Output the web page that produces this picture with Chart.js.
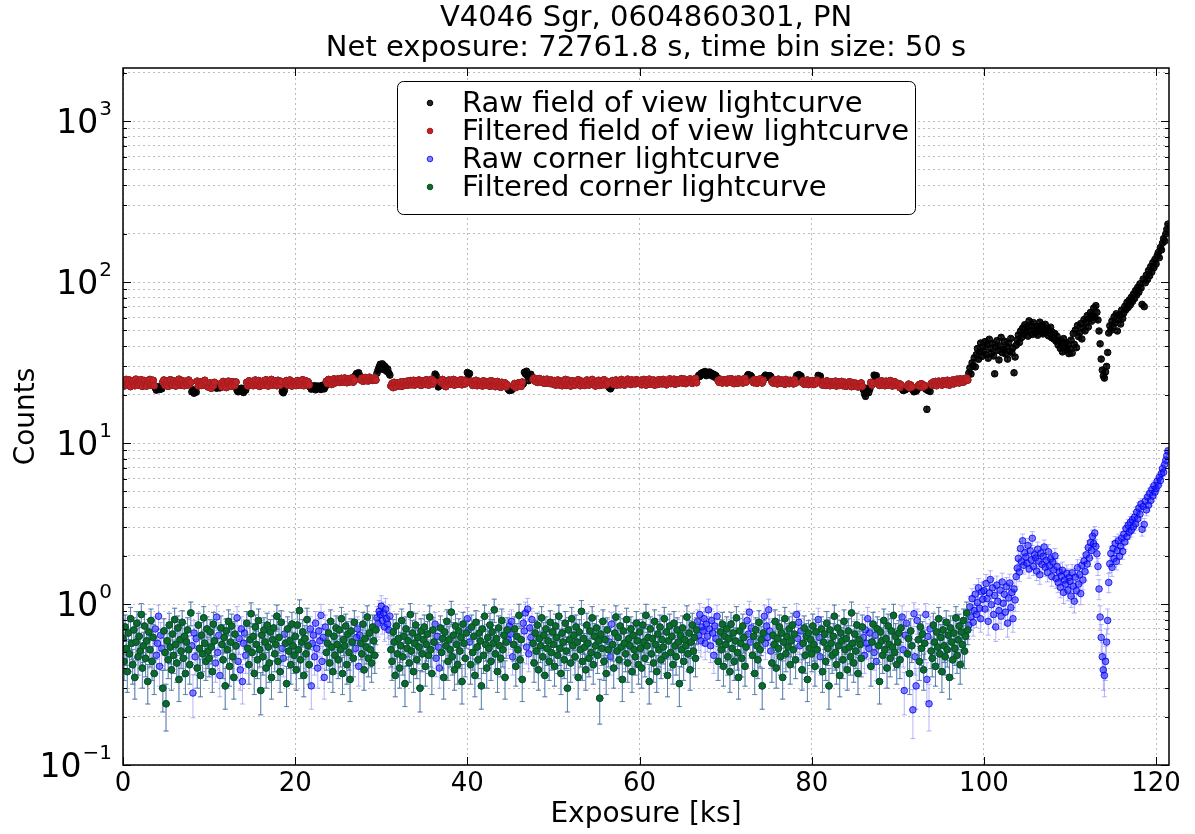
<!DOCTYPE html>
<html>
<head>
<meta charset="utf-8">
<title>V4046 Sgr, 0604860301, PN</title>
<script src="https://cdn.jsdelivr.net/npm/chart.js@4.4.1/dist/chart.umd.min.js"></script>
<style>
  html, body { margin: 0; padding: 0; background: #fff; }
  #lcChart { display: block; }
</style>
</head>
<body>
<canvas id="lcChart" width="1195" height="834"></canvas>
<script>
const titleLines = ['V4046 Sgr, 0604860301, PN', 'Net exposure: 72761.8 s, time bin size: 50 s'];
const seriesNames = ['Raw field of view lightcurve', 'Filtered field of view lightcurve',
                     'Raw corner lightcurve', 'Filtered corner lightcurve'];

// lightcurve bins (ks), one value per bin
const binSize = 0.125;
const filterEnd = 98.25;          // everything after this is dropped by the filter
const badIntervals = [
  [3.75, 4.5], [8.0, 8.5], [10.75, 11.25], [13.25, 14.25], [18.5, 18.75], [21.75, 23.5],
  [27.0, 27.5], [29.5, 31.0], [36.25, 36.75], [40.0, 40.25], [44.75, 45.25], [46.5, 47.5],
  [56.5, 56.75], [66.75, 69.0], [72.5, 73.0], [74.5, 75.25], [78.25, 78.75], [80.75, 81.0],
  [86.0, 86.75], [87.25, 87.5], [90.5, 91.0], [91.75, 92.25], [93.25, 93.75]
];

// field of view counts per bin, 10 ks per block
const rawFov = [
  // 0-10
  24.2, 22.6, 23.9, 24.8, 22.9, 23.5, 24.6, 22.4, 23.8, 24.3, 23.1, 22.7, 24.9, 23.6, 22.8, 24.1, 23.3, 24.7, 22.5, 23.7,
  24.4, 23.0, 22.6, 24.0, 23.5, 24.8, 22.9, 23.4, 24.5, 22.7, 22.0, 21.3, 21.8, 22.4, 21.5, 22.1, 21.7, 23.9, 24.6, 22.8,
  23.6, 24.2, 22.5, 23.8, 24.7, 23.1, 22.9, 24.3, 23.4, 22.6, 24.0, 23.7, 24.9, 22.8, 23.3, 24.4, 23.0, 22.7, 24.1, 23.5,
  22.9, 24.6, 23.2, 23.8, 20.8, 21.4, 20.4, 21.1, 20.7, 24.2, 22.6, 23.5, 24.0, 22.8, 23.9, 23.1, 24.5, 22.7, 23.4, 22.3,
  // 10-20
  22.4, 23.6, 21.9, 23.1, 22.7, 23.8, 22.5, 21.9, 22.2, 22.8, 22.0, 23.4, 22.3, 24.1, 22.9, 23.5, 22.1, 23.7, 24.2, 22.6,
  23.3, 22.5, 24.0, 23.6, 22.8, 23.9, 21.2, 20.8, 21.6, 21.0, 21.9, 21.4, 20.6, 21.7, 21.3, 23.8, 22.6, 24.3, 23.1, 22.9,
  24.1, 22.7, 23.5, 24.6, 22.9, 23.2, 24.4, 22.5, 23.7, 23.0, 24.2, 22.8, 23.9, 24.7, 23.3, 22.6, 24.0, 23.4, 24.8, 22.9,
  23.6, 24.3, 23.0, 22.7, 24.5, 23.8, 22.8, 24.1, 20.9, 20.5, 21.2, 23.5, 24.4, 22.9, 23.7, 24.6, 23.2, 22.6, 24.0, 23.4,
  // 20-30
  23.9, 22.8, 24.4, 23.5, 22.9, 24.1, 23.3, 24.7, 22.7, 23.8, 24.3, 23.0, 24.0, 22.9, 22.2, 21.6, 22.5, 21.9, 22.7, 21.4,
  22.0, 22.6, 21.8, 22.3, 21.5, 22.8, 22.1, 21.7, 22.4, 24.2, 23.4, 24.8, 23.7, 24.5, 23.1, 24.0, 25.0, 23.6, 24.3, 24.9,
  24.9, 23.8, 24.6, 25.2, 23.9, 24.4, 25.3, 24.1, 23.7, 24.8, 25.1, 24.0, 24.7, 25.4, 23.9, 24.5, 26.3, 27.0, 26.5, 27.3,
  26.1, 24.6, 25.3, 24.2, 24.9, 25.5, 24.4, 25.0, 24.3, 25.6, 24.7, 25.2, 24.5, 24.8, 25.4, 24.6, 27.1, 28.4, 29.6, 30.8,
  // 30-40
  29.2, 31.0, 28.6, 30.1, 29.5, 27.9, 28.8, 27.2, 26.4, 22.6, 23.4, 22.1, 23.8, 22.9, 22.4, 23.6, 23.1, 22.7, 23.9, 22.5,
  23.3, 24.0, 22.8, 23.5, 24.2, 22.9, 23.7, 24.4, 23.0, 23.6, 24.5, 22.9, 23.8, 24.1, 23.2, 24.6, 23.4, 22.8, 24.3, 23.7,
  24.0, 23.1, 24.7, 23.5, 22.9, 24.4, 23.8, 24.9, 23.3, 24.2, 26.8, 26.2, 24.5, 22.3, 22.6, 24.1, 23.6, 24.8, 23.2, 22.6,
  22.4, 24.3, 23.7, 24.6, 23.1, 24.0, 23.5, 24.8, 22.9, 23.8, 24.4, 23.2, 24.1, 23.6, 24.7, 23.0, 23.9, 24.5, 23.3, 24.2,
  // 40-50
  27.4, 26.6, 27.0, 23.6, 24.2, 22.8, 23.9, 23.3, 24.5, 22.7, 23.5, 24.1, 23.0, 23.8, 22.6, 24.3, 23.4, 22.9, 24.0, 23.2,
  23.7, 22.5, 24.4, 23.1, 22.8, 23.9, 22.4, 23.5, 24.1, 22.7, 23.3, 22.2, 23.8, 22.9, 22.5, 23.6, 22.3, 23.0, 21.6, 21.2,
  21.8, 21.3, 21.9, 22.6, 23.4, 22.1, 23.0, 22.8, 23.7, 23.2, 22.5, 23.9, 23.3, 27.5, 26.8, 27.9, 26.0, 24.4, 25.9, 26.7,
  25.2, 24.8, 25.3, 24.2, 24.9, 23.8, 24.6, 25.1, 24.0, 24.4, 23.7, 24.8, 23.5, 24.3, 24.9, 23.6, 24.1, 23.4, 24.6, 23.9,
  // 50-60
  23.2, 24.4, 22.9, 23.8, 24.6, 23.0, 23.5, 24.2, 22.7, 24.0, 23.6, 24.8, 22.8, 23.3, 24.5, 23.1, 22.6, 23.9, 24.3, 23.4,
  22.9, 24.1, 23.7, 24.7, 23.0, 22.7, 24.2, 23.5, 24.0, 22.8, 23.9, 24.6, 23.2, 22.9, 24.3, 23.6, 24.8, 23.1, 23.7, 22.6,
  24.0, 23.4, 24.5, 22.8, 23.6, 24.2, 23.0, 24.7, 23.3, 22.9, 24.1, 23.5, 22.0, 21.7, 22.3, 24.4, 23.1, 23.8, 24.6, 22.9,
  23.5, 24.3, 23.0, 24.8, 23.7, 24.1, 22.9, 24.5, 23.4, 24.9, 23.8, 24.2, 23.1, 24.6, 23.6, 24.0, 23.3, 24.7, 23.9, 24.4,
  // 60-70
  23.4, 24.5, 23.0, 24.1, 24.8, 23.6, 22.9, 24.3, 23.7, 24.9, 23.2, 24.0, 23.5, 24.6, 22.9, 23.8, 24.4, 23.1, 24.7, 23.9,
  24.2, 23.3, 24.8, 23.6, 24.1, 23.0, 24.5, 23.7, 25.0, 23.4, 24.3, 23.8, 24.9, 23.2, 24.0, 24.6, 23.5, 24.4, 23.9, 25.1,
  23.6, 24.3, 24.9, 23.4, 24.1, 24.7, 23.8, 25.0, 24.2, 23.5, 24.6, 24.0, 25.2, 23.7, 25.5, 26.3, 25.9, 27.0, 26.6, 27.5,
  26.8, 27.8, 26.2, 27.3, 26.9, 27.6, 26.4, 27.1, 26.0, 26.7, 25.6, 26.2, 25.3, 24.4, 23.8, 24.9, 24.1, 23.6, 24.7, 24.2,
  // 70-80
  24.5, 23.6, 24.9, 23.9, 24.3, 25.1, 23.7, 24.6, 23.4, 24.8, 24.1, 23.5, 25.0, 24.2, 23.8, 24.7, 23.6, 24.4, 25.2, 23.9,
  26.0, 26.6, 25.7, 26.3, 25.9, 24.3, 23.7, 24.8, 24.0, 23.5, 24.6, 23.9, 25.0, 24.2, 23.6, 24.5, 25.8, 26.4, 25.6, 26.1,
  25.5, 26.2, 25.9, 24.1, 23.6, 24.7, 23.9, 24.4, 23.3, 24.9, 24.0, 23.5, 24.6, 23.8, 24.3, 23.2, 24.8, 23.7, 24.2, 23.4,
  24.5, 23.9, 24.1, 23.3, 24.7, 23.6, 26.2, 25.7, 26.6, 25.9, 26.1, 23.8, 24.4, 23.2, 24.0, 23.5, 24.6, 23.1, 23.9, 24.3,
  // 80-90
  23.8, 24.4, 23.1, 24.0, 23.5, 24.6, 26.3, 25.8, 26.0, 23.4, 22.9, 24.1, 23.6, 22.8, 24.3, 23.2, 23.9, 22.7, 24.0, 23.3,
  22.9, 23.7, 24.2, 22.6, 23.4, 23.9, 22.8, 23.5, 24.1, 22.7, 23.0, 23.8, 22.5, 23.6, 22.9, 24.0, 23.2, 22.4, 23.7, 23.1,
  22.6, 23.5, 22.9, 22.3, 23.3, 22.7, 23.6, 22.5, 21.4, 20.2, 19.5, 20.8, 21.9, 20.6, 21.6, 23.8, 22.9, 23.6, 26.4, 25.9,
  26.2, 23.5, 24.1, 22.8, 23.7, 24.3, 23.0, 23.9, 22.7, 24.2, 23.4, 22.9, 23.8, 24.4, 23.1, 22.6, 23.6, 24.0, 22.8, 23.5,
  // 90-100
  22.8, 23.4, 22.1, 23.0, 21.7, 21.2, 21.9, 21.4, 21.8, 22.5, 23.2, 22.0, 22.9, 22.3, 21.3, 20.8, 21.6, 21.0, 21.5, 22.7,
  23.1, 22.4, 23.3, 22.2, 22.9, 22.6, 21.6, 16.2, 21.2, 21.8, 20.9, 23.4, 22.8, 23.9, 23.0, 24.1, 22.7, 23.6, 24.2, 23.2,
  23.8, 22.9, 24.3, 23.4, 24.0, 23.1, 24.5, 23.7, 22.9, 24.2, 23.5, 24.6, 23.3, 24.4, 23.8, 24.9, 24.1, 23.6, 25.0, 24.3,
  24.7, 23.9, 25.1, 24.4, 25.3, 24.6, 27.2, 29.3, 26.8, 31.5, 30.2, 33.8, 29.7, 35.4, 38.6, 33.1, 36.9, 41.8, 34.5, 39.7,
  // 100-110
  37.2, 42.6, 35.4, 40.8, 33.6, 44.1, 38.9, 36.1, 41.5, 34.7, 26.9, 39.4, 43.2, 37.6, 32.8, 40.1, 45.3, 36.4, 38.2, 42.9,
  35.8, 39.6, 33.2, 41.7, 37.1, 44.6, 36.3, 39.0, 27.3, 34.2, 40.5, 43.8, 46.9, 42.1, 49.6, 45.2, 51.8, 47.4, 54.3, 48.9,
  52.6, 46.1, 57.4, 49.8, 53.1, 47.2, 55.9, 50.4, 48.1, 52.9, 46.7, 51.2, 56.3, 49.0, 53.8, 47.6, 50.7, 54.6, 48.4, 51.5,
  46.3, 49.9, 52.4, 45.1, 48.6, 44.2, 47.8, 42.9, 46.0, 40.6, 43.4, 38.7, 41.9, 36.8, 44.5, 39.3, 42.2, 37.5, 40.9, 35.9,
  // 110-120
  38.4, 43.6, 36.2, 47.9, 41.0, 50.3, 39.1, 53.7, 45.8, 48.6, 55.2, 44.3, 51.9, 58.4, 49.7, 56.1, 61.8, 52.5, 59.3, 64.7,
  57.0, 62.4, 68.9, 60.2, 71.3, 64.8, 58.1, 49.6, 41.3, 33.2, 28.4, 26.1, 25.3, 27.6, 29.9, 36.5, 48.2, 53.5, 50.1, 57.3,
  52.4, 60.8, 55.7, 63.5, 49.6, 58.2, 62.1, 54.8, 66.9, 59.4, 64.2, 70.6, 67.3, 74.8, 69.5, 77.2, 72.1, 80.4, 75.6, 84.3,
  79.1, 88.6, 83.2, 92.7, 86.5, 97.4, 91.8, 72.6, 104.2, 70.3, 98.9, 110.5, 103.6, 117.8, 109.2, 124.6, 115.3, 131.9, 122.7, 138.4,
  // 120-
  129.5, 145.8, 152.3, 141.6, 163.9, 158.2, 174.5, 186.1, 179.3, 198.6, 212.4, 228.7
];

// corner counts per bin, 10 ks per block
const rawCorner = [
  // 0-10
  0.61, 0.44, 0.72, 0.53, 0.38, 0.66, 0.49, 0.81, 0.57, 0.42, 0.69, 0.35, 0.58, 0.76, 0.47, 0.63, 0.51, 0.86, 0.40, 0.55,
  0.73, 0.46, 0.59, 0.33, 0.67, 0.52, 0.79, 0.44, 0.62, 0.37, 0.70, 0.48, 0.57, 0.84, 0.41, 0.64, 0.53, 0.30, 0.68, 0.50,
  0.24, 0.59, 0.45, 0.74, 0.54, 0.39, 0.65, 0.48, 0.80, 0.56, 0.43, 0.71, 0.34, 0.60, 0.51, 0.77, 0.46, 0.63, 0.37, 0.58,
  0.69, 0.52, 0.42, 0.88, 0.55, 0.28, 0.66, 0.47, 0.61, 0.40, 0.74, 0.53, 0.36, 0.64, 0.49, 0.82, 0.57, 0.44, 0.70, 0.51,
  // 10-20
  0.46, 0.67, 0.54, 0.38, 0.75, 0.59, 0.43, 0.83, 0.50, 0.64, 0.36, 0.71, 0.56, 0.45, 0.62, 0.31, 0.68, 0.52, 0.78, 0.41,
  0.58, 0.73, 0.47, 0.35, 0.65, 0.55, 0.82, 0.44, 0.61, 0.39, 0.70, 0.33, 0.57, 0.66, 0.48, 0.76, 0.53, 0.42, 0.60, 0.87,
  0.50, 0.63, 0.37, 0.72, 0.56, 0.45, 0.79, 0.52, 0.29, 0.64, 0.47, 0.69, 0.58, 0.40, 0.74, 0.54, 0.43, 0.67, 0.35, 0.60,
  0.71, 0.49, 0.56, 0.84, 0.44, 0.62, 0.38, 0.77, 0.53, 0.46, 0.65, 0.57, 0.32, 0.70, 0.51, 0.59, 0.42, 0.75, 0.55, 0.48,
  // 20-30
  0.63, 0.39, 0.74, 0.52, 0.91, 0.45, 0.58, 0.67, 0.36, 0.61, 0.49, 0.80, 0.55, 0.42, 0.70, 0.31, 0.57, 0.64, 0.47, 0.76,
  0.53, 0.40, 0.68, 0.59, 0.85, 0.44, 0.62, 0.35, 0.72, 0.50, 0.57, 0.66, 0.43, 0.78, 0.54, 0.38, 0.63, 0.48, 0.71, 0.56,
  0.45, 0.69, 0.52, 0.81, 0.37, 0.60, 0.55, 0.73, 0.42, 0.65, 0.50, 0.34, 0.68, 0.58, 0.46, 0.77, 0.53, 0.62, 0.70, 0.41,
  0.64, 0.57, 0.49, 0.75, 0.39, 0.61, 0.54, 0.83, 0.46, 0.66, 0.52, 0.43, 0.72, 0.59, 0.48, 0.69, 0.82, 0.76, 0.90, 0.86,
  // 30-40
  0.97, 0.79, 0.88, 0.72, 0.93, 0.81, 0.75, 0.69, 0.84, 0.52, 0.44, 0.67, 0.58, 0.36, 0.73, 0.49, 0.61, 0.40, 0.55, 0.79,
  0.47, 0.63, 0.32, 0.70, 0.53, 0.59, 0.43, 0.86, 0.51, 0.66, 0.38, 0.57, 0.74, 0.45, 0.62, 0.54, 0.30, 0.68, 0.49, 0.60,
  0.72, 0.41, 0.56, 0.65, 0.48, 0.83, 0.52, 0.37, 0.69, 0.58, 0.75, 0.46, 0.63, 0.54, 0.40, 0.71, 0.50, 0.61, 0.35, 0.67,
  0.55, 0.78, 0.44, 0.60, 0.52, 0.89, 0.47, 0.64, 0.39, 0.73, 0.56, 0.42, 0.68, 0.51, 0.62, 0.33, 0.75, 0.57, 0.46, 0.66,
  // 40-50
  0.81, 0.69, 0.58, 0.42, 0.72, 0.50, 0.63, 0.36, 0.77, 0.54, 0.45, 0.66, 0.59, 0.31, 0.70, 0.48, 0.84, 0.56, 0.40, 0.62,
  0.53, 0.74, 0.44, 0.67, 0.57, 0.92, 0.49, 0.61, 0.38, 0.71, 0.55, 0.46, 0.79, 0.52, 0.64, 0.35, 0.58, 0.69, 0.60, 0.73,
  0.65, 0.78, 0.47, 0.56, 0.70, 0.41, 0.63, 0.52, 0.85, 0.45, 0.60, 0.34, 0.76, 0.68, 0.88, 0.54, 0.93, 0.49, 0.71, 0.62,
  0.80, 0.57, 0.43, 0.66, 0.51, 0.74, 0.39, 0.61, 0.55, 0.82, 0.47, 0.64, 0.36, 0.70, 0.53, 0.59, 0.44, 0.77, 0.50, 0.67,
  // 50-60
  0.56, 0.41, 0.73, 0.62, 0.48, 0.84, 0.53, 0.37, 0.66, 0.58, 0.45, 0.76, 0.51, 0.30, 0.69, 0.60, 0.43, 0.81, 0.55, 0.64,
  0.47, 0.72, 0.58, 0.35, 0.67, 0.52, 0.90, 0.44, 0.61, 0.54, 0.39, 0.74, 0.57, 0.46, 0.68, 0.50, 0.82, 0.42, 0.63, 0.55,
  0.71, 0.48, 0.59, 0.26, 0.65, 0.53, 0.78, 0.44, 0.60, 0.37, 0.69, 0.52, 0.58, 0.47, 0.75, 0.56, 0.40, 0.66, 0.83, 0.51,
  0.62, 0.45, 0.73, 0.54, 0.34, 0.68, 0.57, 0.49, 0.80, 0.43, 0.61, 0.55, 0.70, 0.38, 0.64, 0.52, 0.47, 0.76, 0.59, 0.42,
  // 60-70
  0.67, 0.53, 0.40, 0.74, 0.58, 0.46, 0.85, 0.55, 0.62, 0.33, 0.70, 0.49, 0.61, 0.43, 0.78, 0.56, 0.38, 0.65, 0.52, 0.72,
  0.45, 0.60, 0.54, 0.81, 0.48, 0.67, 0.36, 0.59, 0.73, 0.50, 0.63, 0.42, 0.76, 0.55, 0.47, 0.69, 0.58, 0.32, 0.64, 0.52,
  0.71, 0.44, 0.60, 0.55, 0.83, 0.49, 0.66, 0.39, 0.58, 0.74, 0.51, 0.62, 0.46, 0.69, 0.78, 0.64, 0.86, 0.59, 0.72, 0.68,
  0.81, 0.57, 0.75, 0.63, 0.92, 0.70, 0.55, 0.79, 0.66, 0.48, 0.73, 0.61, 0.84, 0.44, 0.58, 0.67, 0.52, 0.75, 0.41, 0.63,
  // 70-80
  0.56, 0.70, 0.47, 0.61, 0.38, 0.75, 0.53, 0.66, 0.44, 0.59, 0.82, 0.50, 0.35, 0.68, 0.57, 0.46, 0.73, 0.62, 0.41, 0.54,
  0.79, 0.65, 0.89, 0.58, 0.71, 0.48, 0.63, 0.37, 0.69, 0.55, 0.45, 0.77, 0.52, 0.60, 0.31, 0.66, 0.84, 0.57, 0.73, 0.62,
  0.92, 0.68, 0.51, 0.43, 0.64, 0.56, 0.78, 0.40, 0.61, 0.53, 0.72, 0.47, 0.66, 0.35, 0.58, 0.81, 0.49, 0.63, 0.54, 0.70,
  0.42, 0.59, 0.74, 0.52, 0.65, 0.45, 0.86, 0.61, 0.77, 0.55, 0.68, 0.39, 0.57, 0.71, 0.48, 0.63, 0.34, 0.66, 0.53, 0.60,
  // 80-90
  0.49, 0.73, 0.56, 0.41, 0.67, 0.52, 0.80, 0.62, 0.47, 0.70, 0.38, 0.58, 0.65, 0.44, 0.76, 0.53, 0.31, 0.69, 0.57, 0.48,
  0.63, 0.84, 0.50, 0.42, 0.71, 0.55, 0.36, 0.66, 0.59, 0.45, 0.78, 0.52, 0.61, 0.39, 0.68, 0.54, 0.47, 0.88, 0.57, 0.43,
  0.65, 0.51, 0.74, 0.37, 0.60, 0.56, 0.46, 0.72, 0.62, 0.48, 0.69, 0.57, 0.81, 0.53, 0.66, 0.41, 0.58, 0.75, 0.50, 0.64,
  0.44, 0.70, 0.55, 0.33, 0.67, 0.59, 0.48, 0.79, 0.52, 0.61, 0.40, 0.73, 0.56, 0.46, 0.68, 0.54, 0.85, 0.50, 0.63, 0.42,
  // 90-100
  0.58, 0.66, 0.45, 0.71, 0.83, 0.52, 0.29, 0.64, 0.76, 0.49, 0.61, 0.37, 0.68, 0.55, 0.22, 0.87, 0.47, 0.31, 0.79, 0.60,
  0.44, 0.72, 0.53, 0.65, 0.39, 0.57, 0.86, 0.34, 0.63, 0.24, 0.70, 0.51, 0.46, 0.74, 0.58, 0.41, 0.67, 0.54, 0.81, 0.49,
  0.62, 0.38, 0.69, 0.55, 0.47, 0.77, 0.52, 0.64, 0.35, 0.71, 0.58, 0.45, 0.66, 0.53, 0.82, 0.48, 0.60, 0.73, 0.42, 0.67,
  0.56, 0.79, 0.51, 0.63, 0.88, 0.69, 0.74, 0.96, 0.83, 1.08, 0.77, 0.91, 1.15, 0.86, 1.02, 1.26, 0.94, 0.81, 1.19, 1.07,
  // 100-110
  1.21, 0.93, 1.34, 1.08, 0.78, 1.17, 1.42, 0.99, 1.26, 0.86, 1.13, 0.72, 1.31, 1.04, 0.91, 1.22, 0.84, 1.37, 1.01, 1.15,
  0.89, 1.28, 0.76, 1.09, 1.35, 0.95, 1.18, 0.81, 1.24, 1.06, 1.48, 1.67, 1.92, 1.58, 2.21, 1.83, 2.47, 1.74, 2.08, 1.96,
  1.79, 2.31, 1.65, 2.14, 1.88, 2.56, 1.71, 2.02, 1.93, 1.60, 2.19, 1.84, 1.52, 2.07, 1.76, 1.98, 2.26, 1.69, 1.87, 1.57,
  2.11, 1.73, 1.91, 1.48, 1.82, 1.63, 1.99, 1.44, 1.71, 1.36, 1.58, 1.27, 1.49, 1.62, 1.18, 1.41, 1.33, 1.55, 1.22, 1.46,
  // 110-120
  1.38, 1.12, 1.56, 1.29, 1.04, 1.47, 1.21, 1.68, 1.33, 1.52, 1.16, 1.74, 1.41, 1.85, 1.59, 2.02, 1.77, 2.24, 1.93, 2.41,
  2.15, 2.63, 2.37, 2.76, 2.28, 2.05, 1.71, 1.24, 0.83, 0.62, 0.47, 0.39, 0.36, 0.44, 0.58, 0.79, 1.36, 1.78, 2.06, 1.69,
  2.21, 1.92, 2.38, 1.84, 2.15, 2.47, 1.98, 2.29, 2.56, 2.12, 2.71, 2.43, 2.94, 2.62, 3.08, 2.79, 3.21, 2.87, 3.34, 3.02,
  3.46, 3.15, 3.72, 3.38, 3.95, 3.61, 4.18, 2.91, 4.03, 3.12, 4.36, 3.84, 4.62, 4.11, 4.87, 4.39, 5.14, 4.68, 5.43, 4.95,
  // 120-
  5.21, 5.78, 5.46, 6.12, 5.84, 6.47, 6.93, 6.58, 7.36, 7.81, 8.34, 8.92
];

const xTicks = [0, 20, 40, 60, 80, 100, 120];
const yDecades = [0.1, 1, 10, 100, 1000];
const yTickBase = '10';
const yTickExponents = ['−1', '0', '1', '2', '3'];

// poisson-like error: sigma^2 proportional to the rate
const errScale = 0.025;

const FONT = "'DejaVu Sans', 'Bitstream Vera Sans', sans-serif";

const times = rawFov.map((_, i) => i * binSize);

function passesFilter(t) {
  if (t >= filterEnd - 1e-9) return false;
  return !badIntervals.some(([a, b]) => t >= a - 1e-9 && t <= b + 1e-9);
}

function toPoints(values, filtered) {
  const pts = [];
  values.forEach((v, i) => {
    if (filtered && !passesFilter(times[i])) return;
    pts.push({ x: times[i], y: v, err: Math.sqrt(errScale * v) });
  });
  return pts;
}

// minor + major ticks for the log axis
const yMax = 2134;
const yTickValues = [];
for (let k = -1; k <= 3; k++) {
  for (let m = 1; m <= 9; m++) {
    const v = Number((m * Math.pow(10, k)).toPrecision(3));
    if (v <= yMax) yTickValues.push(v);
  }
}
const isDecade = v => yDecades.some(d => Math.abs(d - v) / d < 1e-6);

// vertical error bars with caps, drawn under each dataset's markers
const errorBars = {
  id: 'errorBars',
  beforeDatasetDraw(chart, args) {
    const ds = chart.data.datasets[args.index];
    const yScale = chart.scales.y;
    const area = chart.chartArea;
    const ctx = chart.ctx;
    ctx.save();
    ctx.beginPath();
    ctx.rect(area.left, area.top, area.right - area.left, area.bottom - area.top);
    ctx.clip();
    ctx.strokeStyle = ds.errColor;
    ctx.lineWidth = 1;
    ctx.beginPath();
    args.meta.data.forEach((el, i) => {
      const d = ds.data[i];
      const lo = yScale.getPixelForValue(Math.max(d.y - d.err, 0.01));
      const hi = yScale.getPixelForValue(d.y + d.err);
      ctx.moveTo(el.x, lo); ctx.lineTo(el.x, hi);
      ctx.moveTo(el.x - 2.5, lo); ctx.lineTo(el.x + 2.5, lo);
      ctx.moveTo(el.x - 2.5, hi); ctx.lineTo(el.x + 2.5, hi);
    });
    ctx.stroke();
    ctx.restore();
  }
};

// axes frame with inward ticks on all four sides, and the decade labels
const frame = {
  id: 'frame',
  afterDatasetsDraw(chart) {
    const { ctx, chartArea: a, scales: { x, y } } = chart;
    ctx.save();
    ctx.strokeStyle = '#000';
    ctx.lineWidth = 1;
    ctx.beginPath();
    yTickValues.forEach(v => {
      const py = Math.round(y.getPixelForValue(v)) + 0.5;
      const len = isDecade(v) ? 8 : 4;
      ctx.moveTo(a.left, py); ctx.lineTo(a.left + len, py);
      ctx.moveTo(a.right, py); ctx.lineTo(a.right - len, py);
    });
    xTicks.forEach(v => {
      const px = Math.round(x.getPixelForValue(v)) + 0.5;
      ctx.moveTo(px, a.bottom); ctx.lineTo(px, a.bottom - 8);
      ctx.moveTo(px, a.top); ctx.lineTo(px, a.top + 8);
    });
    ctx.stroke();
    ctx.lineWidth = 1.5;
    ctx.strokeRect(a.left, a.top, a.right - a.left, a.bottom - a.top);

    ctx.fillStyle = '#000';
    ctx.textAlign = 'right';
    ctx.textBaseline = 'alphabetic';
    const rightEdge = a.left - 11;
    yDecades.forEach((v, i) => {
      const py = y.getPixelForValue(v);
      ctx.font = `20px ${FONT}`;
      const ew = ctx.measureText(yTickExponents[i]).width;
      ctx.fillText(yTickExponents[i], rightEdge, py - 6);
      ctx.font = `33px ${FONT}`;
      ctx.fillText(yTickBase, rightEdge - ew - 1, py + 12);
    });
    ctx.restore();
  }
};

// two-line title centred on the plot, plus the boxed legend
const titleAndLegend = {
  id: 'titleAndLegend',
  afterDraw(chart) {
    const { ctx, chartArea: a } = chart;
    ctx.save();
    ctx.fillStyle = '#000';
    ctx.font = `29px ${FONT}`;
    ctx.textAlign = 'center';
    ctx.textBaseline = 'middle';
    const cx = (a.left + a.right) / 2;
    ctx.fillText(titleLines[0], cx, 18);
    ctx.fillText(titleLines[1], cx, 48);

    const bx = 397, by = 81, bw = 518, bh = 133, r = 6;
    ctx.beginPath();
    ctx.roundRect(bx + 0.5, by + 0.5, bw, bh, r);
    ctx.fillStyle = '#fff';
    ctx.fill();
    ctx.strokeStyle = '#000';
    ctx.lineWidth = 1;
    ctx.stroke();

    ctx.textAlign = 'left';
    ctx.font = `29px ${FONT}`;
    chart.data.datasets.forEach((ds, i) => {
      const ly = 103 + i * 28;
      ctx.beginPath();
      ctx.arc(430, ly, 2.8, 0, Math.PI * 2);
      ctx.fillStyle = ds.backgroundColor;
      ctx.fill();
      ctx.strokeStyle = ds.borderColor;
      ctx.lineWidth = 1;
      ctx.stroke();
      ctx.fillStyle = '#000';
      ctx.fillText(ds.label, 462, ly + 1);
    });
    ctx.restore();
  }
};

const datasets = [
  {
    label: seriesNames[0], data: toPoints(rawFov, false), order: 4,
    backgroundColor: 'rgba(0,0,0,0.85)', borderColor: '#000', errColor: 'rgba(0,0,0,0.8)'
  },
  {
    label: seriesNames[1], data: toPoints(rawFov, true), order: 3,
    backgroundColor: '#c02226', borderColor: '#a81c1f', errColor: '#b22222'
  },
  {
    label: seriesNames[2], data: toPoints(rawCorner, false), order: 2,
    backgroundColor: 'rgba(30,30,255,0.55)', borderColor: 'rgba(0,0,235,0.8)', errColor: 'rgba(110,110,255,0.5)'
  },
  {
    label: seriesNames[3], data: toPoints(rawCorner, true), order: 1,
    backgroundColor: '#0c6b2c', borderColor: '#07521f', errColor: 'rgba(60,115,135,0.7)'
  }
];

new Chart(document.getElementById('lcChart').getContext('2d'), {
  type: 'scatter',
  data: { datasets: datasets },
  options: {
    responsive: false,
    animation: false,
    layout: { padding: { top: 68, right: 26, left: 0, bottom: 0 } },
    elements: { point: { radius: 3.3, borderWidth: 1, hoverRadius: 3.3 } },
    plugins: {
      legend: { display: false },
      title: { display: false },
      tooltip: { enabled: false }
    },
    scales: {
      x: {
        type: 'linear',
        min: 0,
        max: 121.5,
        afterBuildTicks(scale) { scale.ticks = xTicks.map(v => ({ value: v })); },
        afterFit(scale) { scale.height = 69; },
        grid: { color: '#bdbdbd', lineWidth: 1, drawTicks: false },
        border: { display: false, dash: [2, 3] },
        ticks: {
          autoSkip: false, maxRotation: 0, padding: 4, color: '#000',
          font: { family: FONT, size: 26 },
          callback: v => String(v)
        },
        title: {
          display: true, text: 'Exposure [ks]', color: '#000',
          font: { family: FONT, size: 28 }, padding: { top: 0, bottom: 2 }
        }
      },
      y: {
        type: 'logarithmic',
        min: 0.1,
        max: yMax,
        afterBuildTicks(scale) { scale.ticks = yTickValues.map(v => ({ value: v })); },
        afterFit(scale) { scale.width = 123; },
        grid: { color: '#bdbdbd', lineWidth: 1, drawTicks: false },
        border: { display: false, dash: [2, 3] },
        ticks: { display: false },
        title: {
          display: true, text: 'Counts', color: '#000',
          font: { family: FONT, size: 28 }, padding: { top: 10, bottom: 0 }
        }
      }
    }
  },
  plugins: [errorBars, frame, titleAndLegend]
});
</script>
</body>
</html>
